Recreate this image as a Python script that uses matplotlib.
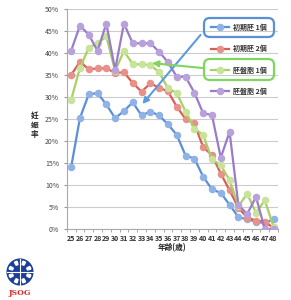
import numpy as np
import matplotlib
matplotlib.use("Agg")
import matplotlib.pyplot as plt
from matplotlib.patches import FancyBboxPatch, Circle, Wedge
from matplotlib.ticker import PercentFormatter

plt.rcParams['font.family'] = ['Noto Sans CJK JP', 'DejaVu Sans']

ages = list(range(25, 49))

# pregnancy rate (%) by age
early_1 = [14.0, 25.2, 30.6, 30.9, 28.3, 25.2, 26.8, 28.8, 25.8, 26.7, 25.8, 23.8,
           21.4, 16.7, 16.0, 11.9, 9.0, 8.2, 5.5, 2.7, 2.2, 1.7, 1.3, 2.3]
early_2 = [35.0, 38.0, 36.3, 36.5, 36.5, 35.5, 35.6, 33.2, 31.2, 33.1, 32.1, 31.3,
           27.8, 25.0, 24.0, 18.6, 16.8, 12.6, 8.8, 4.8, 2.6, 1.9, 1.7, 0.2]
blast_1 = [29.3, 36.6, 41.2, 42.2, 43.8, 36.0, 40.4, 37.5, 37.4, 37.3, 35.6, 32.0,
           30.9, 26.7, 22.8, 21.4, 15.8, 14.5, 11.1, 5.2, 8.0, 3.7, 6.5, 0.5]
blast_2 = [40.5, 46.2, 44.2, 40.5, 46.7, 36.2, 46.7, 42.2, 42.2, 42.2, 40.3, 37.9,
           34.6, 34.6, 31.0, 26.3, 25.9, 16.2, 22.1, 5.5, 3.4, 7.3, 0.0, 0.0]

labels = ["初期胚 1個", "初期胚 2個", "胚盤胞 1個", "胚盤胞 2個"]
colors = ["#5b8fd8", "#d9604f", "#a9d064", "#9a7ccb"]
faces = ["#8fb3e6", "#e8908a", "#c8e39a", "#b9a2dc"]

fig = plt.figure(figsize=(2.91, 3.0), dpi=100)
ax = fig.add_axes([66.7 / 291, 71 / 300, (278 - 66.7) / 291, 220 / 300])

for ys, c, fc, lab in zip([early_1, early_2, blast_1, blast_2], colors, faces, labels):
    ax.plot(ages, ys, color=c, lw=1.6, marker="o", ms=4.4, mfc=fc, mec=fc,
            label=lab, zorder=3)

ax.set_xlim(24.5, 48.5)
ax.set_ylim(0, 50)
ax.set_yticks(range(0, 51, 5))
ax.yaxis.set_major_formatter(PercentFormatter(decimals=0))
ax.set_xticks(ages)
ax.set_xticks(np.arange(24.5, 49, 1), minor=True)
ax.tick_params(axis="x", which="major", length=0, labelsize=5.1, pad=4)
ax.tick_params(axis="x", which="minor", length=2.5, color="#999999")
ax.tick_params(axis="y", length=2.5, color="#999999", labelsize=5, pad=3,
               labelcolor="#444444")
ax.grid(axis="y", color="#cccccc", lw=0.8)
ax.set_axisbelow(True)
for s in ["top", "right"]:
    ax.spines[s].set_visible(False)
for s in ["left", "bottom"]:
    ax.spines[s].set_color("#aaaaaa")
    ax.spines[s].set_linewidth(0.8)

for lab in ax.get_xticklabels():
    lab.set_fontweight("bold")
    lab.set_color("#333333")

ax.set_xlabel("年齢(歳)", fontsize=5.5, fontweight="bold", labelpad=1, color="#222222")
fig.text(35 / 291, 1 - 125 / 300, "妊\n娠\n率", fontsize=5.5, fontweight="bold",
         ha="center", va="center", linespacing=1.05, color="#222222")

leg = fig.legend(loc="upper left", bbox_to_anchor=(205 / 291, 1 - 18 / 300),
                 frameon=False, fontsize=5, handlelength=2.6, handletextpad=0.6,
                 labelspacing=2.0, borderpad=0.3)
for t in leg.get_texts():
    t.set_fontweight("bold")
    t.set_color("#333333")

for (y0, y1, ec) in [(18, 37, "#5b8fd8"), (59, 80, "#7fd65f")]:
    box = FancyBboxPatch((204 / 291, 1 - y1 / 300), 70 / 291, (y1 - y0) / 300,
                         boxstyle="round,pad=0,rounding_size=0.02",
                         transform=fig.transFigure, fill=False, ec=ec, lw=1.6)
    fig.patches.append(box)

ax.annotate("", xy=(33.1, 28.4), xytext=(39.7, 44.1),
            xycoords="data", textcoords="data",
            arrowprops=dict(arrowstyle="-|>", color="#5b9be0", lw=1.5,
                            mutation_scale=9, shrinkA=0, shrinkB=0))
ax.annotate("", xy=(34.2, 37.7), xytext=(39.9, 36.6),
            xycoords="data", textcoords="data",
            arrowprops=dict(arrowstyle="-|>", color="#7fd65f", lw=1.5,
                            mutation_scale=9, shrinkA=0, shrinkB=0))

# JSOG logo
lax = fig.add_axes([6 / 291, 1 - 286 / 300, 28 / 291, 28 / 300])
lax.set_xlim(-1, 1)
lax.set_ylim(-1, 1)
lax.set_aspect("equal")
lax.axis("off")
lax.add_patch(Circle((0, 0), 0.92, color="#1c3f9a"))
for ang in range(0, 360, 45):
    lax.add_patch(Wedge((0, 0), 0.8, ang + 15, ang + 30, width=0.25, color="white"))
lax.plot([-0.9, 0.9], [0, 0], color="white", lw=0.8)
lax.plot([0, 0], [-0.9, 0.9], color="white", lw=0.8)
fig.text(20 / 291, 1 - 293 / 300, "JSOG", color="#d42a2a", fontsize=5.5,
         fontweight="bold", family="DejaVu Serif", ha="center", va="center")

fig.savefig("out.png", dpi=100)
